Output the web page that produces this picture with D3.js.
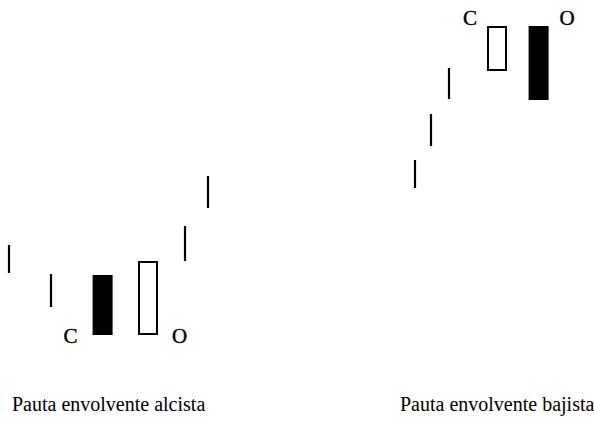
<!DOCTYPE html>
<html>
<head>
<meta charset="utf-8">
<script src="https://cdn.jsdelivr.net/npm/d3@7"></script>
<style>
    body { margin: 0; background: #fff; }
    svg { display: block; }
    text { font-family: "Liberation Serif", "Times New Roman", serif; fill: #000; }
</style>
</head>
<body>
<div id="chart"></div>
<script>
// barras sin cuerpo (maximo / minimo) y velas de la pauta
var alcistaTicks = [
    {t: 0.45, high: 21.0, low: 15.4},
    {t: 2.55, high: 15.2, low: 8.6},
    {t: 9.25, high: 24.8, low: 17.8},
    {t: 10.4, high: 34.8, low: 28.4}
];
var alcistaVelas = [
    {t: 5.13, open: 15.0, close: 3.0},
    {t: 7.40, open: 3.0, close: 17.8}
];
var bajistaTicks = [
    {t: 20.75, high: 38.0, low: 32.4},
    {t: 21.55, high: 47.2, low: 40.8},
    {t: 22.45, high: 56.4, low: 50.2}
];
var bajistaVelas = [
    {t: 24.85, open: 55.8, close: 64.8},
    {t: 26.93, open: 64.8, close: 50.0}
];
var etiquetas = [
    {texto: "C", t: 3.53, p: 1.4},
    {texto: "O", t: 8.98, p: 1.4},
    {texto: "C", t: 23.5, p: 65.0},
    {texto: "O", t: 28.35, p: 65.0}
];
var titulos = ["Pauta envolvente alcista", "Pauta envolvente bajista"];

var width = 594, height = 422;
var svg = d3.select("#chart").append("svg")
        .attr("width", width)
        .attr("height", height);

var x = d3.scaleLinear().domain([0, 29.7]).range([0, width]);
var y = d3.scaleLinear().domain([0, 70]).range([350, 0]);
var anchoVela = 20;

function dibujar(ticks, velas) {
    var g = svg.append("g");

    g.selectAll(".tick-bar")
            .data(ticks)
            .enter().append("line")
            .attr("class", "tick-bar")
            .attr("x1", function (d) { return x(d.t); })
            .attr("x2", function (d) { return x(d.t); })
            .attr("y1", function (d) { return y(d.high); })
            .attr("y2", function (d) { return y(d.low); })
            .attr("stroke", "#000")
            .attr("stroke-width", 2.2);

    g.selectAll(".vela")
            .data(velas)
            .enter().append("rect")
            .attr("class", "vela")
            .attr("x", function (d) {
                var hueca = d.close > d.open;
                return x(d.t) - anchoVela / 2 + (hueca ? 1 : 0);
            })
            .attr("y", function (d) {
                var hueca = d.close > d.open;
                return y(Math.max(d.open, d.close)) + (hueca ? 1 : 0);
            })
            .attr("width", function (d) {
                return d.close > d.open ? anchoVela - 2 : anchoVela;
            })
            .attr("height", function (d) {
                var h = Math.abs(y(d.open) - y(d.close));
                return d.close > d.open ? h - 2 : h;
            })
            .attr("fill", function (d) {
                return d.close > d.open ? "#fff" : "#000";
            })
            .attr("stroke", function (d) {
                return d.close > d.open ? "#000" : "none";
            })
            .attr("stroke-width", 2);
}

dibujar(alcistaTicks, alcistaVelas);
dibujar(bajistaTicks, bajistaVelas);

svg.selectAll(".etiqueta")
        .data(etiquetas)
        .enter().append("text")
        .attr("class", "etiqueta")
        .attr("text-anchor", "middle")
        .attr("x", function (d) { return x(d.t); })
        .attr("y", function (d) { return y(d.p); })
        .attr("font-size", "21px")
        .attr("stroke", "#000")
        .attr("stroke-width", 0.4)
        .text(function (d) { return d.texto; });

svg.selectAll(".titulo")
        .data(titulos)
        .enter().append("text")
        .attr("class", "titulo")
        .attr("x", function (d, i) { return i === 0 ? 12 : 400; })
        .attr("y", 411)
        .attr("font-size", "20px")
        .text(function (d) { return d; });
</script>
</body>
</html>
